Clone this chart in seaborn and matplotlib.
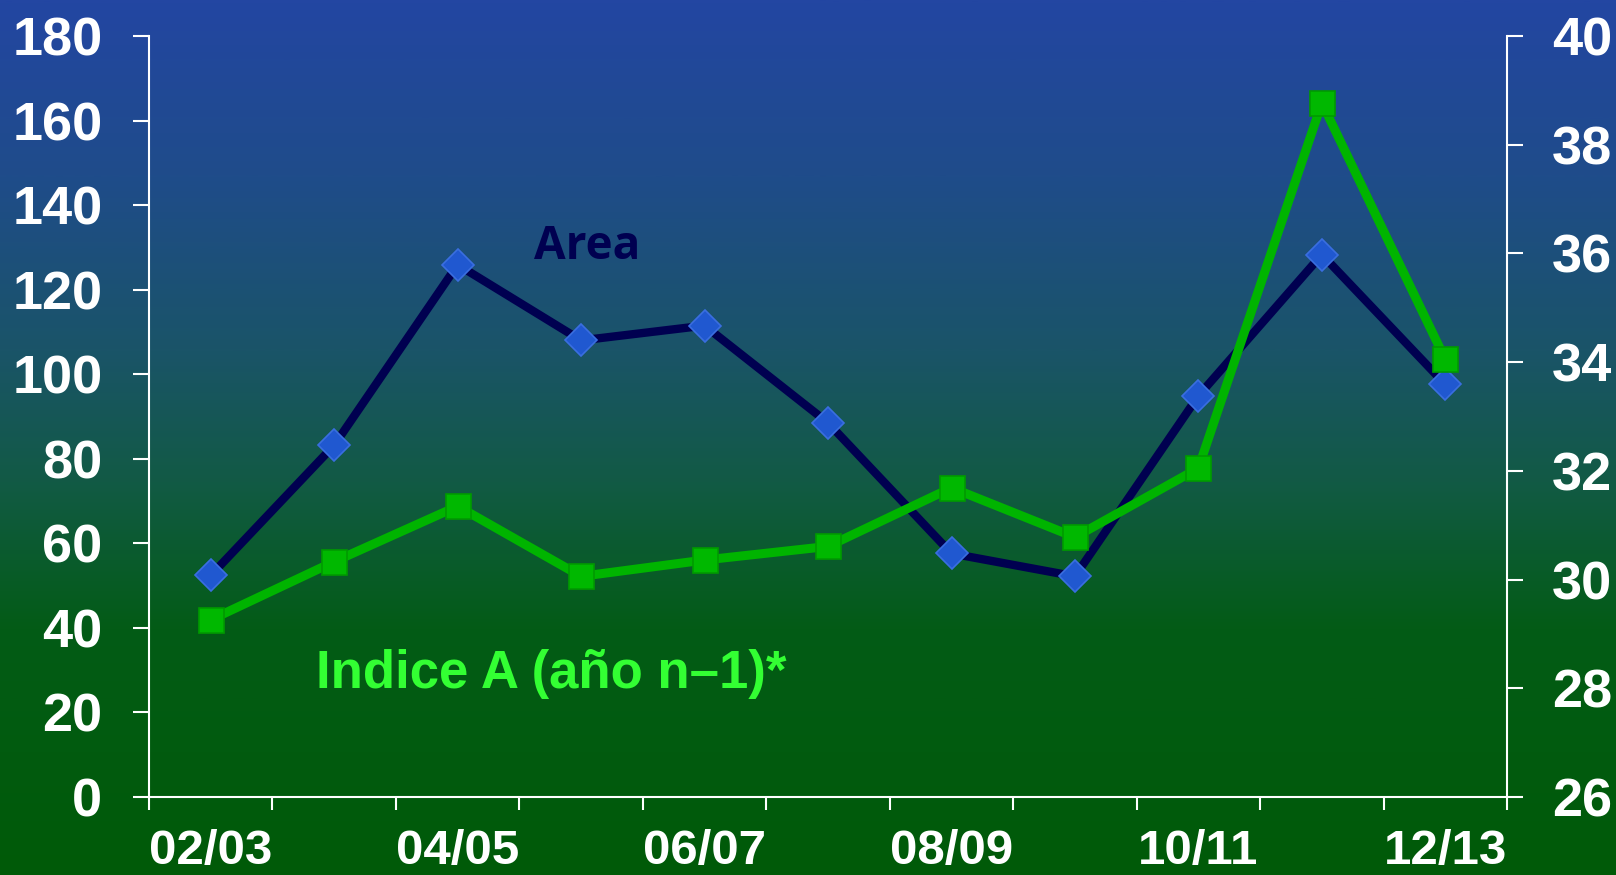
import numpy as np
import pandas as pd
import matplotlib
matplotlib.use("Agg")
import matplotlib.pyplot as plt
from matplotlib.colors import LinearSegmentedColormap
import seaborn as sns

seasons = ["02/03", "03/04", "04/05", "05/06", "06/07", "07/08",
           "08/09", "09/10", "10/11", "11/12", "12/13"]
area = [52.4, 83.2, 125.9, 108.0, 111.5, 88.5, 57.6, 52.2, 94.9, 128.3, 97.6]
indice_a = [29.26, 30.33, 31.35, 30.06, 30.36, 30.61, 31.69, 30.78, 32.05, 38.77, 34.05]
left_ticks = [0, 20, 40, 60, 80, 100, 120, 140, 160, 180]
right_ticks = [26, 28, 30, 32, 34, 36, 38, 40]

sns.set_theme(style="ticks")
plt.rcParams["font.family"] = ["Liberation Sans", "DejaVu Sans"]

df = pd.DataFrame({"pos": np.arange(len(seasons)), "season": seasons,
                   "area": area, "indice": indice_a})

fig = plt.figure(figsize=(16.16, 8.75), dpi=100)

# gradient background
bg = fig.add_axes([0, 0, 1, 1], zorder=0)
cmap = LinearSegmentedColormap.from_list(
    "bg", [(0.0, "#2346a2"), (0.2, "#1f4c8a"), (0.4, "#1a5468"),
           (0.55, "#125a45"), (0.72, "#035c16"), (1.0, "#005a08")])
grad = np.linspace(0, 1, 512).reshape(-1, 1)
bg.imshow(grad, aspect="auto", cmap=cmap, extent=[0, 1, 0, 1])
bg.set_axis_off()

ax = fig.add_axes([0.0922, 0.0891, 0.8404, 0.8698], zorder=1)
ax.patch.set_alpha(0)

sns.lineplot(data=df, x="pos", y="area", ax=ax, color="#000050", linewidth=6,
             marker="D", markersize=16, markerfacecolor="#2058d0",
             markeredgecolor="#3a6ee0", markeredgewidth=1.2, legend=False)

ax2 = ax.twinx()
sns.lineplot(data=df, x="pos", y="indice", ax=ax2, color="#00b400", linewidth=6.5,
             marker="s", markersize=18, markerfacecolor="#00b800",
             markeredgecolor="#009a00", markeredgewidth=1.2, legend=False)

ax.set_xlim(-0.5, len(seasons) - 0.5)
ax.set_ylim(0, 180)
ax2.set_ylim(26, 40)
ax.set_yticks(left_ticks)
ax2.set_yticks(right_ticks)

# boundary ticks (no labels) and category labels every other season
ax.set_xticks(np.arange(-0.5, len(seasons), 1.0))
ax.set_xticklabels([])
lab_pos = np.arange(0, len(seasons), 2)
ax.set_xticks(lab_pos, minor=True)
ax.set_xticklabels([seasons[i] for i in lab_pos], minor=True)
ax.tick_params(axis="x", which="minor", length=0, pad=23,
               labelsize=35.5, labelcolor="white")
ax.tick_params(axis="x", which="major", length=9.6, width=1.5, color="white",
               direction="out")
ax.tick_params(axis="y", length=11.5, width=1.5, color="white", pad=22,
               labelsize=39, labelcolor="white")
ax2.tick_params(axis="y", length=11.5, width=1.5, color="white", pad=21,
                labelsize=39, labelcolor="white")
for a in (ax, ax2):
    for lbl in a.get_xticklabels(which="both") + a.get_yticklabels():
        lbl.set_fontweight("bold")
    a.set_xlabel("")
    a.set_ylabel("")
    a.grid(False)
    for s in a.spines.values():
        s.set_color("white")
        s.set_linewidth(1.5)
    a.spines["top"].set_visible(False)
ax.spines["right"].set_visible(False)
ax2.spines["left"].set_visible(False)
ax2.spines["bottom"].set_visible(False)

ax.text(3.05, 130.2, "Area", color="#000050", fontsize=33, fontweight="bold",
        family=["Open Sans", "DejaVu Sans"], ha="center", va="center", zorder=5)
ax.text(2.76, 29.2, "Indice A (año n\u20131)*", color="#33ff33", fontsize=38,
        fontweight="bold", ha="center", va="center", zorder=5)

fig.savefig("out.png", dpi=100)
